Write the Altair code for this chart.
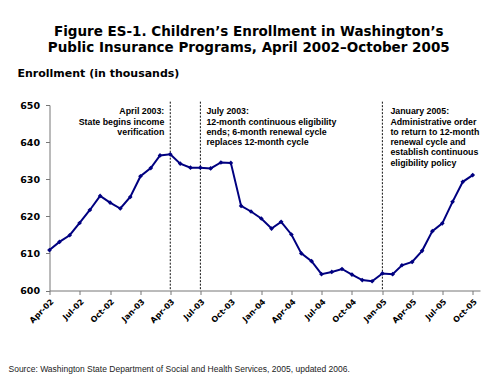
import altair as alt
import pandas as pd

# Monthly enrollment (thousands), Apr-2002 .. Oct-2005
enrollment = [610.9, 613.1, 614.9, 618.2, 621.7, 625.5, 623.7, 622.1, 625.2, 630.8,
              633.0, 636.4, 636.7, 634.2, 633.1, 633.1, 632.9, 634.5, 634.4, 622.8,
              621.3, 619.4, 616.7, 618.5, 615.1, 610.0, 607.9, 604.4, 605.0, 605.8,
              604.3, 602.8, 602.5, 604.6, 604.4, 606.8, 607.7, 610.7, 616.0, 618.1,
              623.9, 629.3, 631.1]
months = pd.date_range("2002-04-01", periods=len(enrollment), freq="MS")

tick_months = [(2002, 4), (2002, 7), (2002, 10), (2003, 1), (2003, 4), (2003, 7), (2003, 10),
               (2004, 1), (2004, 4), (2004, 7), (2004, 10), (2005, 1), (2005, 4), (2005, 7),
               (2005, 10)]
y_ticks = [600, 610, 620, 630, 640, 650]

event_dates = ["2003-04-01T00:00:00", "2003-07-01T00:00:00", "2005-01-01T00:00:00"]
note_apr = ["April 2003:", "State begins income", "verification"]
note_jul = ["July 2003:", "12-month continuous eligibility", "ends; 6-month renewal cycle",
            "replaces 12-month cycle"]
note_jan = ["January 2005:", "Administrative order", "to return to 12-month",
            "renewal cycle and", "establish continuous", "eligibility policy"]

title_lines = ["Figure ES-1. Children\u2019s Enrollment in Washington\u2019s",
               "Public Insurance Programs, April 2002\u2013October 2005"]
source = "Source: Washington State Department of Social and Health Services, 2005, updated 2006."

data = pd.DataFrame({"month": months, "enroll": enrollment})
events = pd.DataFrame({"month": event_dates})

NAVY = "#000080"
AXC = "#777777"
HEAVY = "DejaVu Sans"
ARIAL = "Liberation Sans"

x_axis = alt.Axis(
    values=[alt.DateTime(year=y, month=m, date=1) for y, m in tick_months],
    format="%b-%y", labelAngle=-45, labelFontWeight="bold", labelFontSize=8,
    labelFont=HEAVY, labelColor="black", labelPadding=3, labelOverlap=False,
    tickSize=4, tickColor=AXC, domainColor=AXC,
    grid=False, title=source, titleX=-41.5, titleY=80.5, titleAlign="left",
    titleBaseline="alphabetic", titleFontWeight="normal", titleFontSize=8.5,
    titleFont=ARIAL, titleColor="#222222",
)
y_axis = alt.Axis(
    values=y_ticks, grid=False, labelFontWeight="bold", labelFontSize=9.5,
    labelFont=HEAVY, labelColor="black", labelPadding=6, labelOverlap=False,
    tickSize=4, tickColor=AXC, domainColor=AXC,
    title="Enrollment (in thousands)", titleAngle=0, titleX=-32.5, titleY=-29,
    titleAlign="left", titleBaseline="alphabetic", titleFontSize=11,
    titleFont=HEAVY, titleFontWeight="bold", titleColor="black",
)
x_scale = alt.Scale(domain=[alt.DateTime(year=2002, month=4, date=1),
                            alt.DateTime(year=2005, month=10, date=23)])
y_scale = alt.Scale(domain=[600, 650], nice=False, zero=False)

x_enc = alt.X("month:T", scale=x_scale, axis=x_axis)
y_enc = alt.Y("enroll:Q", scale=y_scale, axis=y_axis)

base = alt.Chart(data)
line = base.mark_line(color=NAVY, strokeWidth=2).encode(x=x_enc, y=y_enc)
pts = base.mark_point(shape="diamond", filled=True, size=22, color=NAVY, opacity=1).encode(
    x=x_enc, y=y_enc)

rules = alt.Chart(events).mark_rule(color="#111111", strokeDash=[2, 1.5], strokeWidth=1).encode(
    x=x_enc, y=alt.YDatum(650.9, type="quantitative", scale=y_scale, axis=y_axis),
    y2=alt.Y2Datum(600))


def note(date, lines, align, dx):
    return alt.Chart(pd.DataFrame({"month": [date]})).mark_text(
        text=lines, align=align, dx=dx, baseline="alphabetic", fontWeight="bold",
        font=ARIAL, fontSize=8.8, lineHeight=10.3, color="black").encode(
        x=x_enc, y=alt.YDatum(647.5, type="quantitative", scale=y_scale, axis=y_axis))


chart = alt.layer(
    rules, line, pts,
    note(event_dates[0], note_apr, "right", -6),
    note(event_dates[1], note_jul, "left", 6),
    note(event_dates[2], note_jan, "left", 8),
).properties(
    width=430.5, height=185.5, autosize=alt.AutoSizeParams(type="none"),
    padding={"left": 41.5, "top": 97, "right": 2, "bottom": 85},
    title=alt.TitleParams(title_lines, anchor="middle", fontSize=13.5, fontWeight="bold",
                          font=HEAVY, color="black", lineHeight=16.7, dx=-16, dy=-8,
                          frame="group"),
).configure(font=ARIAL).configure_view(stroke=None).configure_axis(labelOverlap=False)

chart.save("out.html", embed_options={"renderer": "svg", "actions": False})
